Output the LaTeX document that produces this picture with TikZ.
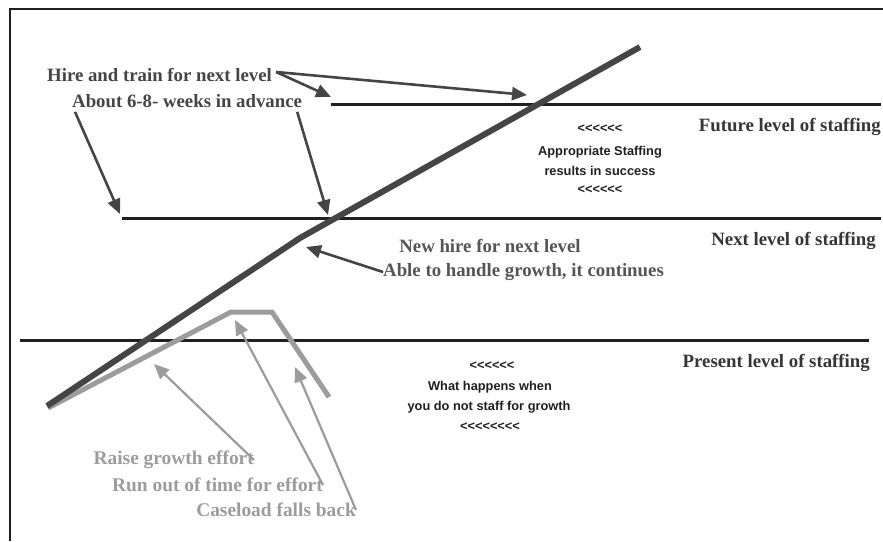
\documentclass[tikz,border=0pt]{standalone}
\usepackage{fontspec}
\setmainfont{Liberation Serif}
\newfontfamily\sansb{Liberation Sans}
\usetikzlibrary{arrows.meta}
\definecolor{dk}{HTML}{454545}
\definecolor{md}{HTML}{555555}
\definecolor{lg}{HTML}{9C9C9C}
\definecolor{ln}{HTML}{202020}
\begin{document}
\begin{tikzpicture}[x=1pt,y=-1pt,
  lvl/.style={line width=3pt, draw=ln},
  lab/.style={font=\fontsize{18.8}{21}\selectfont\bfseries, text=dk, inner sep=0pt},
  glab/.style={font=\fontsize{19.4}{21}\selectfont\bfseries, text=lg, inner sep=0pt},
  slab/.style={font=\sansb\fontsize{12.8}{14}\selectfont\bfseries, text=ln, inner sep=0pt},
  darr/.style={draw=dk, line width=2.6pt, -{Triangle[length=15pt,width=13pt]}},
  garr/.style={draw=lg, line width=2.2pt, -{Triangle[length=15pt,width=13pt]}}
]
\useasboundingbox (0,0) rectangle (883,541);
\fill[white] (0,0) rectangle (883,541);
\draw[line width=2pt, draw=ln] (10,541) -- (10,9) -- (883,9);

% levels
\coordinate (f1) at (331,104); \coordinate (f2) at (881,104);
\coordinate (n1) at (122,218); \coordinate (n2) at (881,218);
\coordinate (p1) at (20,340);  \coordinate (p2) at (869,340);
\draw[lvl] (f1) -- (f2);
\draw[lvl] (n1) -- (n2);
\draw[lvl] (p1) -- (p2);

% gray trajectory
\coordinate (g1) at (48,408); \coordinate (g2) at (231,312);
\coordinate (g3) at (272,312); \coordinate (g4) at (329,397);
\draw[draw=lg, line width=5pt, line join=miter] (g1) -- (g2) -- (g3) -- (g4);

% main growth line
\coordinate (m1) at (47,406); \coordinate (m2) at (300,238); \coordinate (m3) at (640,47);
\draw[draw=dk, line width=6pt, line join=round] (m1) -- (m2) -- (m3);

% labels
\node[lab, anchor=west] (hire) at (47,75) {Hire and train for next level};
\node[lab, anchor=west] (about) at (72,101) {About 6-8- weeks in advance};
\node[lab, anchor=east, text=ln!90] (fut) at (881,127) {Future level of staffing};
\node[lab, anchor=east, text=ln!90] (nxt) at (876,241) {Next level of staffing};
\node[lab, anchor=east, text=ln!90] (pres) at (870,363) {Present level of staffing};
\node[lab, text=md] (newh) at (490,246) {New hire for next level};
\node[lab, anchor=west, text=md] (able) at (383,272) {Able to handle growth, it continues};

\node[slab] (s1) at (600,129) {<<<<<<};
\node[slab] (s2) at (600,152) {Appropriate Staffing};
\node[slab] (s3) at (600,171) {results in success};
\node[slab] (s4) at (600,190) {<<<<<<};

\node[slab] (w1) at (492,366) {<<<<<<};
\node[slab] (w2) at (490,387) {What happens when};
\node[slab] (w3) at (489,407) {you do not staff for growth};
\node[slab] (w4) at (490,427) {<<<<<<<<};

\node[glab, anchor=east] (raise) at (254,460) {Raise growth effort};
\node[glab, anchor=east] (run) at (323,485) {Run out of time for effort};
\node[glab, anchor=east] (case) at (356,510) {Caseload falls back};

% arrow targets
\coordinate (t1) at (331,97);
\coordinate (t2) at (527,95);
\coordinate (t3) at (120,214);
\coordinate (t4) at (328,215);
\coordinate (t5) at (306,247);
\coordinate (u1) at (154,364);
\coordinate (u2) at (235,320);
\coordinate (u3) at (295,367);

\draw[darr] (hire.east) ++(4,-3) coordinate (h0) -- (t1);
\draw[darr] (h0) -- (t2);
\draw[darr] (about.south west) ++(3,4) -- (t3);
\draw[darr] (about.south east) ++(-5,4) -- (t4);
\draw[darr] (able.west) -- (t5);
\draw[garr] (raise.east) -- (u1);
\draw[garr] (run.east) -- (u2);
\draw[garr] (case.east) -- (u3);
\end{tikzpicture}
\end{document}
